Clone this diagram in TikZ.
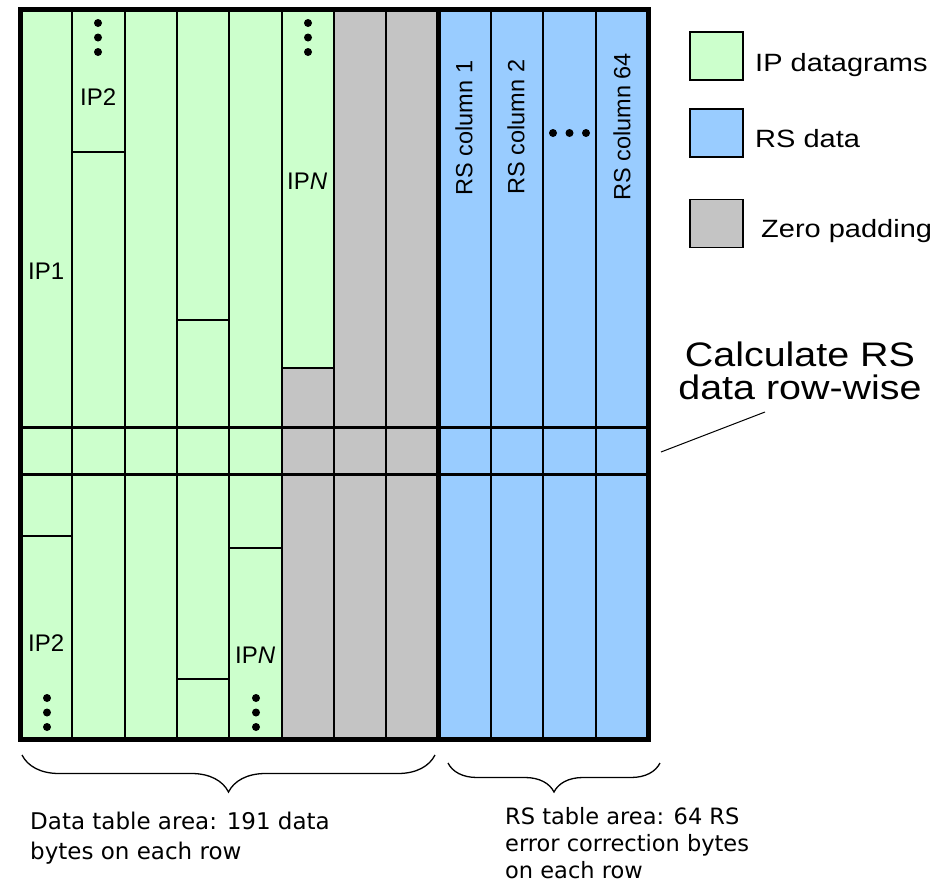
\documentclass[tikz,border=0pt]{standalone}
\usepackage{fontspec}
\setmainfont{Liberation Sans}
\newfontfamily\widesans[FakeStretch=1.16]{Liberation Sans}
\newfontfamily\notesans{DejaVu Sans}
\usepackage{tikz}
\usetikzlibrary{
  positioning,
  decorations.pathreplacing
}
\definecolor{ipgreen}{RGB}{204,255,204}
\definecolor{rsblue}{RGB}{153,204,255}
\definecolor{padgray}{RGB}{196,196,196}

\newcommand\dotcol[2]{\foreach \k in {0,1,2}{\fill ({#1},{#2+14.5*\k}) circle[radius=4pt];}}
\newcommand\dotrow[2]{\foreach \k in {0,1,2}{\fill ({#1+16.5*\k},{#2}) circle[radius=4pt];}}

\begin{document}
\begin{tikzpicture}[x=1pt, y=-1pt,
  colline/.style={line width=2pt},
  bandline/.style={line width=3pt},
  tableframe/.style={line width=5pt},
  cell/.style={font=\fontsize{24}{28}\selectfont, inner sep=0pt, anchor=base west},
  rslabel/.style={font=\fontsize{23.5}{28}\selectfont, rotate=90, inner sep=0pt},
  keybox/.style={draw, line width=1.5pt, minimum width=53pt, minimum height=48pt, inner sep=0pt},
  keytext/.style={font=\widesans\fontsize{25}{30}\selectfont, inner sep=0pt, anchor=base west},
  note/.style={font=\notesans\fontsize{23}{30}\selectfont, inner sep=0pt, align=left, anchor=north west},
  areabrace/.style={decorate, line width=1.3pt},
]
  \useasboundingbox (0,0) rectangle (940,889);
  \pgfmathsetmacro\colw{52.33}

  % table fills
  \fill[padgray] (20,9) rectangle ({20+8*\colw},739);
  \fill[ipgreen] (20,9) rectangle ({20+5*\colw},739);
  \fill[ipgreen] ({20+5*\colw},9) rectangle ({20+6*\colw},368);
  \fill[rsblue] ({20+8*\colw},9) rectangle (648,739);

  \foreach \i in {1,...,7,9,10,11}
    \draw[colline] ({20+\i*\colw},9) -- ({20+\i*\colw},739);

  % datagram boundaries
  \draw[colline] ({20+\colw},152) -- ({20+2*\colw},152);
  \draw[colline] ({20+3*\colw},320) -- ({20+4*\colw},320);
  \draw[colline] ({20+5*\colw},368) -- ({20+6*\colw},368);
  \draw[colline] (20,536) -- ({20+\colw},536);
  \draw[colline] ({20+4*\colw},548) -- ({20+5*\colw},548);
  \draw[colline] ({20+3*\colw},679) -- ({20+4*\colw},679);

  \draw[bandline] (20,427) -- (648,427);
  \draw[bandline] (20,474) -- (648,474);
  \draw[tableframe] ({20+8*\colw},9) -- ({20+8*\colw},739);
  \draw[tableframe] (20,9) rectangle (648,739);

  \node[cell] (ipone) at (28,279) {IP1};
  \node[cell] (iptwotop) at (80,105) {IP2};
  \node[cell] (ipntop) at (287,189) {IP\textit{N}};
  \node[cell] (iptwobot) at (28,651) {IP2};
  \node[cell] (ipnbot) at (235,663) {IP\textit{N}};

  \dotcol{98}{23}
  \dotcol{308}{23}
  \dotcol{47}{698}
  \dotcol{256}{698}
  \dotrow{553}{133}

  \node[rslabel] (rscolone) at (464,128) {RS column 1};
  \node[rslabel] (rscoltwo) at (516,127) {RS column 2};
  \node[rslabel] (rscolsixtyfour) at (622,127) {RS column 64};

  % legend
  \node[keybox, fill=ipgreen] (keyip) at (716.5,56) {};
  \node[keybox, fill=rsblue] (keyrs) at (716.5,133) {};
  \node[keybox, fill=padgray] (keypad) at (716.5,223.5) {};
  \node[keytext] (keyiptext) at (755,71) {IP datagrams};
  \node[keytext] (keyrstext) at (755,147) {RS data};
  \node[keytext] (keypadtext) at (761,237) {Zero padding};

  \node[font=\widesans\fontsize{34}{33}\selectfont, align=center, inner sep=0pt]
    (calcnote) at (800,371) {Calculate RS\\data row-wise};
  \coordinate (bandpt) at (661,452);
  \coordinate (calcfoot) at (765,412);
  \draw[line width=1pt] (bandpt) -- (calcfoot);

  % area braces
  \coordinate (dataleft) at (22,755);
  \coordinate (dataright) at (435,755);
  \coordinate (rsleft) at (448,763);
  \coordinate (rsright) at (660,763);
  \draw[areabrace, decoration={brace,mirror,amplitude=37pt}] (dataleft) -- (dataright);
  \draw[areabrace, decoration={brace,mirror,amplitude=29pt}] (rsleft) -- (rsright);

  \node[note] (datanote) at (30,812) {Data table area: 191 data\\bytes on each row};
  \node[note, font=\notesans\fontsize{22.5}{27}\selectfont] (rsnote) at (505,807)
    {RS table area: 64 RS\\error correction bytes\\on each row};
\end{tikzpicture}
\end{document}
